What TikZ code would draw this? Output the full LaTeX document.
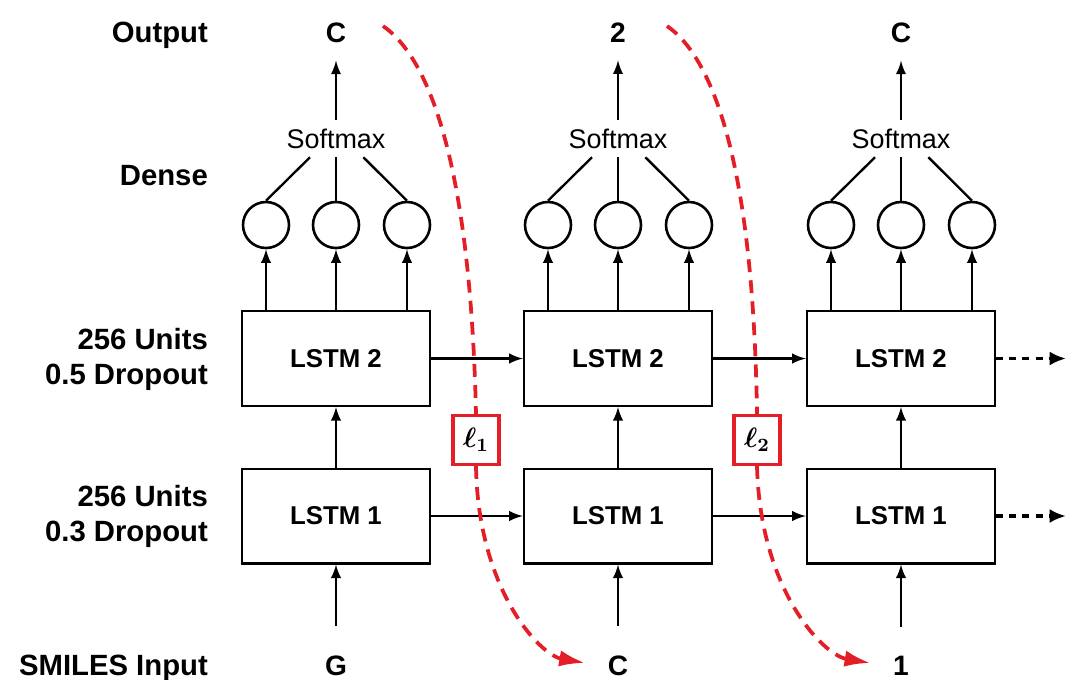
\documentclass[tikz,border=0pt]{standalone}
\usepackage{amsmath}
\usepackage{fontspec}
\setmainfont{Liberation Sans}
\usetikzlibrary{arrows.meta}
\definecolor{lossred}{RGB}{228,30,38}
\tikzset{
  lstm/.style={draw, line width=1pt, minimum width=2.82cm, minimum height=1.42cm, font=\fontsize{11}{13}\selectfont\bfseries},
  unit/.style={draw, circle, line width=1.1pt, minimum size=0.69cm, inner sep=0pt},
  lbl/.style={anchor=east, align=right, inner sep=0pt, font=\fontsize{12.5}{15}\selectfont\bfseries},
  sym/.style={anchor=base, font=\fontsize{12}{14}\selectfont\bfseries},
  soft/.style={anchor=base, font=\fontsize{11.5}{13}\selectfont},
  lossbox/.style={draw=lossred, fill=white, line width=1.4pt, minimum width=0.69cm, minimum height=0.73cm, inner sep=0pt, font=\fontsize{12}{14}\selectfont},
  lossline/.style={lossred, line width=1.6pt, dash pattern=on 5.5pt off 3.5pt},
  moreline/.style={line width=1.5pt, dash pattern=on 3pt off 2.6pt, -{Latex[length=7pt, width=6pt]}},
}

\begin{document}
\begin{tikzpicture}[x=0.015cm, y=-0.015cm, line width=1pt]
      \useasboundingbox (0,0) rectangle (1068,679);

      % row labels
      \node[lbl, anchor=base east] (lout) at (209,42) {Output};
      \node[lbl, anchor=base east] (lden) at (209,185) {Dense};
      \node[lbl] (lup) at (209,359) {256 Units\\0.5 Dropout};
      \node[lbl] (llo) at (209,516) {256 Units\\0.3 Dropout};
      \node[lbl, anchor=base east] (lin) at (209,675) {SMILES Input};

      % first step
      \node[lstm] (up1) at (336,358.5) {LSTM 2};
      \node[lstm] (lo1) at (336,516) {LSTM 1};
      \node[unit] (d11) at (266,225) {};
      \node[unit] (d12) at (336,225) {};
      \node[unit] (d13) at (407,225) {};
      \node[soft] (sm1) at (336,148) {Softmax};
      \node[sym] (out1) at (336,42) {C};
      \node[sym] (in1) at (336,675) {G};

      % second step
      \node[lstm] (up2) at (618,358.5) {LSTM 2};
      \node[lstm] (lo2) at (618,516) {LSTM 1};
      \node[unit] (d21) at (548,225) {};
      \node[unit] (d22) at (618,225) {};
      \node[unit] (d23) at (689,225) {};
      \node[soft] (sm2) at (618,148) {Softmax};
      \node[sym] (out2) at (618,42) {2};
      \node[sym] (in2) at (618,675) {C};

      % third step
      \node[lstm] (up3) at (901,358.5) {LSTM 2};
      \node[lstm] (lo3) at (901,516) {LSTM 1};
      \node[unit] (d31) at (831,225) {};
      \node[unit] (d32) at (901,225) {};
      \node[unit] (d33) at (972,225) {};
      \node[soft] (sm3) at (901,148) {Softmax};
      \node[sym] (out3) at (901,42) {C};
      \node[sym] (in3) at (901,675) {1};

      \draw[-latex, shorten <=8.5pt] (in1) -- (lo1);
      \draw[-latex, shorten <=8.5pt] (in2) -- (lo2);
      \draw[-latex, shorten <=8.5pt] (in3) -- (lo3);
      \draw[-latex] (lo1) -- (up1);
      \draw[-latex] (lo2) -- (up2);
      \draw[-latex] (lo3) -- (up3);
      \draw[-latex] (lo1) -- (lo2);
      \draw[-latex] (lo2) -- (lo3);
      \draw[-latex] (up1) -- (up2);
      \draw[-latex] (up2) -- (up3);

      \draw[-latex] (up1.north -| d11) -- (d11);
      \draw[-latex] (up1.north -| d12) -- (d12);
      \draw[-latex] (up1.north -| d13) -- (d13);
      \draw[-latex] (up2.north -| d21) -- (d21);
      \draw[-latex] (up2.north -| d22) -- (d22);
      \draw[-latex] (up2.north -| d23) -- (d23);
      \draw[-latex] (up3.north -| d31) -- (d31);
      \draw[-latex] (up3.north -| d32) -- (d32);
      \draw[-latex] (up3.north -| d33) -- (d33);

      \draw (d11.north) -- ([xshift=-0.39cm]sm1.south);
      \draw (d12.north) -- (sm1.south);
      \draw (d13.north) -- ([xshift=0.41cm]sm1.south);
      \draw (d21.north) -- ([xshift=-0.39cm]sm2.south);
      \draw (d22.north) -- (sm2.south);
      \draw (d23.north) -- ([xshift=0.41cm]sm2.south);
      \draw (d31.north) -- ([xshift=-0.39cm]sm3.south);
      \draw (d32.north) -- (sm3.south);
      \draw (d33.north) -- ([xshift=0.41cm]sm3.south);

      \draw[-latex, shorten >=4pt] (sm1) -- (out1);
      \draw[-latex, shorten >=4pt] (sm2) -- (out2);
      \draw[-latex, shorten >=4pt] (sm3) -- (out3);

      % unrolled further
      \coordinate (eup) at (1066,358.5);
      \coordinate (elo) at (1066,516);
      \draw[moreline] (up3) -- (eup);
      \draw[moreline] (lo3) -- (elo);

      % loss terms
      \node[lossbox] (ls1) at (476,440) {$\boldsymbol{\ell}_{\boldsymbol{1}}$};
      \node[lossbox] (ls2) at (757,440) {$\boldsymbol{\ell}_{\boldsymbol{2}}$};
      \coordinate (s1) at (383,26);
      \coordinate (s2) at (667,26);
      \draw[lossline] (s1) .. controls (425,55) and (470,150) .. (ls1.north);
      \draw[lossline, -{Latex[length=11pt, width=7pt]}, shorten >=6pt] (ls1.south) .. controls (478,590) and (540,655) .. (in2.west);
      \draw[lossline] (s2) .. controls (709,55) and (753,150) .. (ls2.north);
      \draw[lossline, -{Latex[length=11pt, width=7pt]}, shorten >=6pt] (ls2.south) .. controls (760,590) and (823,655) .. (in3.west);
\end{tikzpicture}
\end{document}
